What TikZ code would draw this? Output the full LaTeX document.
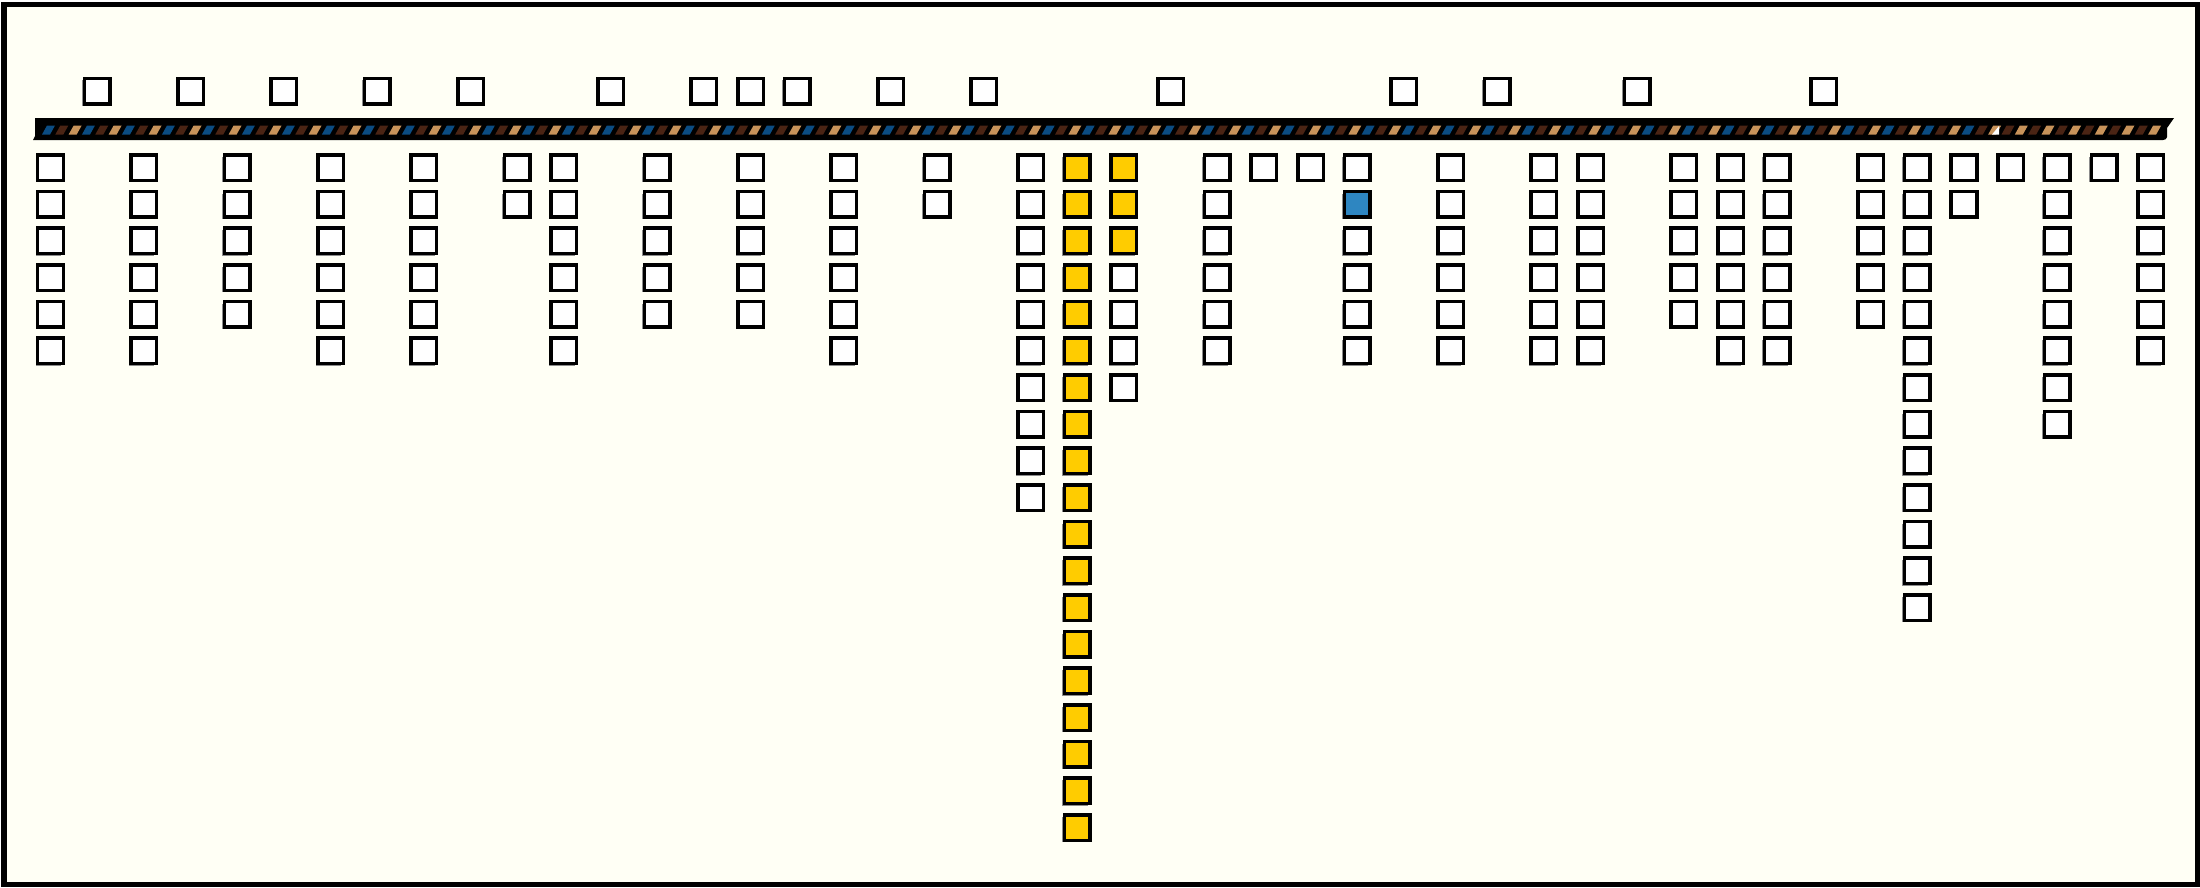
\documentclass[tikz,border=0pt]{standalone}
\usetikzlibrary{shadows}
\definecolor{paper}{HTML}{FFFFF5}
\definecolor{bandblue}{HTML}{0B4C82}
\definecolor{bandbrown}{HTML}{4A2414}
\definecolor{bandtan}{HTML}{C8935A}
\definecolor{hityellow}{HTML}{FFCC00}
\definecolor{hitblue}{HTML}{2E86C1}
\tikzset{
  gene/.style={shape=rectangle,draw=black,line width=0.035cm,fill=white,
    minimum size=0.255cm,inner sep=0pt,
    drop shadow={shadow xshift=-0.6pt,shadow yshift=-0.6pt,fill=black!45,opacity=1}},
  yellowgene/.style={gene,fill=hityellow},
  bluegene/.style={gene,fill=hitblue}
}
\begin{document}
\begin{tikzpicture}[x=0.01cm,y=-0.01cm]
            \useasboundingbox (0,0) rectangle (2200,887);
            \draw[line width=0.05cm,fill=paper] (4,4) rectangle (2197,884);

            % band
            \fill[black] (35,118) -- (2174,118) -- (2167,128) -- (2167,137)
              to[out=-90,in=0] (2163,140) -- (33,140) -- (35,136) -- cycle;
            \foreach \i in {0,...,146} {
              \pgfmathtruncatemacro{\k}{mod(\i,3)}
              \ifcase\k \def\bandcol{bandblue}\or \def\bandcol{bandbrown}\else \def\bandcol{bandtan}\fi
              \fill[\bandcol] ({42+13.33*\i},134.5) -- ++(8,0) -- ++(5,-9) -- ++(-8,0) -- cycle;
            }
            \fill[white] (1992,134.5) -- (1999,134.5) -- (1999,126) -- cycle;
            \foreach \i in {147,...,158} {
              \pgfmathtruncatemacro{\k}{mod(\i,2)}
              \ifcase\k \def\bandcol{bandtan}\else \def\bandcol{bandbrown}\fi
              \fill[\bandcol] ({42+13.33*\i},134.5) -- ++(8,0) -- ++(5,-9) -- ++(-8,0) -- cycle;
            }

            % boxes above the band
            \foreach \c in {1,3,5,7,9,12,14,15,16,18,20,24,29,31,34,38}
              \node[gene] (t\c) at ({50.5+46.67*\c},91) {};

            % columns below the band
            \foreach \c/\n in {0/6,2/6,4/5,6/6,8/6,10/2,11/6,13/5,15/5,17/6,19/2,21/10,
                25/6,26/1,27/1,30/6,32/6,33/6,35/5,36/6,37/6,39/5,40/13,41/2,42/1,
                43/8,44/1,45/6}
              \foreach \r in {1,...,\n}
                \node[gene] (b\c-\r) at ({50.5+46.67*\c},{167.5+36.67*(\r-1)}) {};

            \foreach \r in {1,...,19}
              \node[yellowgene] (b22-\r) at ({50.5+46.67*22},{167.5+36.67*(\r-1)}) {};
            \foreach \r in {1,...,3}
              \node[yellowgene] (b23-\r) at ({50.5+46.67*23},{167.5+36.67*(\r-1)}) {};
            \foreach \r in {4,...,7}
              \node[gene] (b23-\r) at ({50.5+46.67*23},{167.5+36.67*(\r-1)}) {};

            \foreach \r in {1,3,4,5,6}
              \node[gene] (b28-\r) at ({50.5+46.67*28},{167.5+36.67*(\r-1)}) {};
            \node[bluegene] (b28-2) at ({50.5+46.67*28},{167.5+36.67}) {};
        \end{tikzpicture}
\end{document}
